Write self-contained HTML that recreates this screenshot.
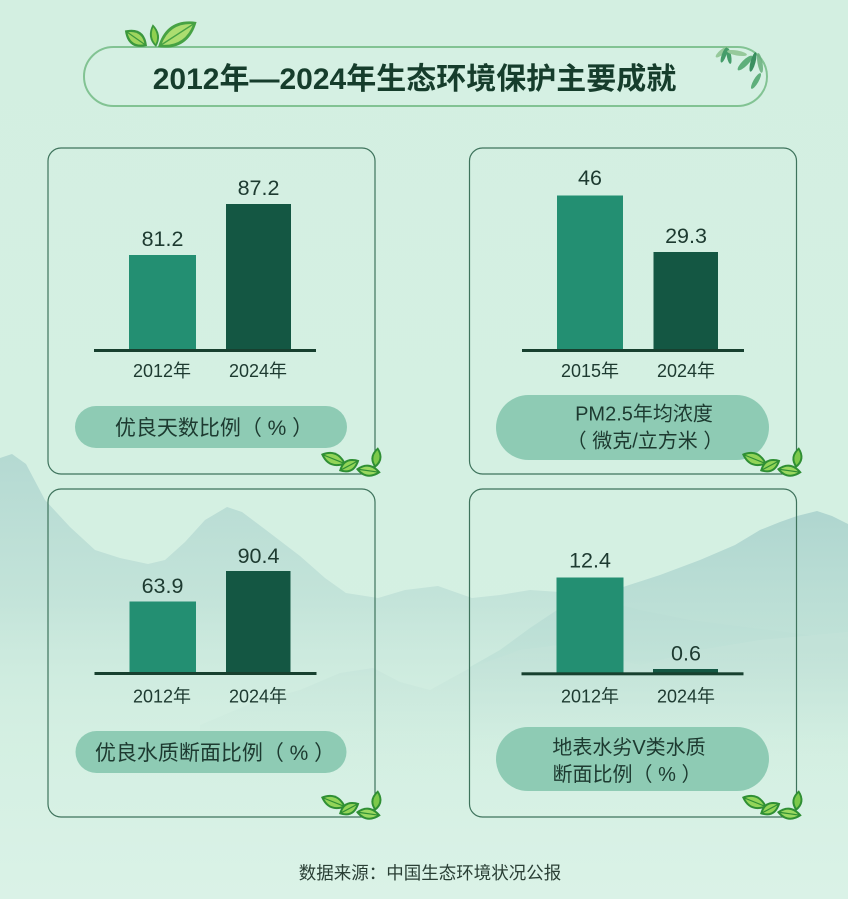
<!DOCTYPE html>
<html><head><meta charset="utf-8"><style>
html,body{margin:0;padding:0;background:#d4efe2;}
svg{display:block;}
</style></head><body>
<svg width="848" height="899" viewBox="0 0 848 899" xmlns="http://www.w3.org/2000/svg">
<defs>
<linearGradient id="bg" x1="0" y1="0" x2="0" y2="1">
<stop offset="0" stop-color="#d3efe1"/><stop offset="0.85" stop-color="#d5f0e3"/><stop offset="1" stop-color="#daf2e7"/>
</linearGradient>
<linearGradient id="mt" x1="0" y1="450" x2="0" y2="780" gradientUnits="userSpaceOnUse">
<stop offset="0" stop-color="#b4d9d2"/><stop offset="0.45" stop-color="#c1e2d8" stop-opacity="0.9"/><stop offset="1" stop-color="#d3efe1" stop-opacity="0"/>
</linearGradient>
<linearGradient id="mtR" x1="0" y1="505" x2="0" y2="760" gradientUnits="userSpaceOnUse">
<stop offset="0" stop-color="#aed5cf"/><stop offset="0.6" stop-color="#bde0d6" stop-opacity="0.8"/><stop offset="1" stop-color="#d3efe1" stop-opacity="0"/>
</linearGradient>
<linearGradient id="mt2" x1="0" y1="660" x2="0" y2="790" gradientUnits="userSpaceOnUse">
<stop offset="0" stop-color="#c4e3d9"/><stop offset="1" stop-color="#d3efe1" stop-opacity="0"/>
</linearGradient>
<g id="lv">
<g transform="translate(-58 -20) rotate(22)"><path d="M0,0 Q13,-13 27,0 Q13,13 0,0Z" fill="#2f8f34"/><path d="M3,0 Q13,-9 24,0 Q13,9 3,0Z" fill="#92d458"/><path d="M2,0 L25,0" stroke="#2f8f34" stroke-width="1.2"/></g>
<g transform="translate(-40 -3) rotate(-28)"><path d="M0,0 Q11,-12 23,0 Q11,12 0,0Z" fill="#2f8f34"/><path d="M3,0 Q11,-8 20,0 Q11,8 3,0Z" fill="#92d458"/><path d="M2,0 L21,0" stroke="#2f8f34" stroke-width="1.2"/></g>
<g transform="translate(-4 -6) rotate(-82)"><path d="M0,0 Q10,-10 21,0 Q10,10 0,0Z" fill="#2f8f34"/><path d="M3,0 Q10,-6 18,0 Q10,6 3,0Z" fill="#7cc94a"/></g>
<g transform="translate(-23 -5) rotate(8)"><path d="M0,0 Q12,-12 25,0 Q12,12 0,0Z" fill="#2f8f34"/><path d="M3,0 Q12,-8 22,0 Q12,8 3,0Z" fill="#9ad860"/><path d="M2,0 L23,0" stroke="#2f8f34" stroke-width="1.2"/></g>
</g>
</defs>
<rect width="848" height="899" fill="url(#bg)"/>
<!-- mountains -->
<path d="M0,458 L12,454 L26,464 L45,500 L70,527 L95,550 L120,558 L148,564 L165,560 L185,542 L205,520 L227,507 L242,512 L266,530 L300,556 L325,578 L346,593 L378,598 L405,590 L438,586 L455,592 L472,598 L500,595 L530,590 L560,592 L600,600 L640,610 L690,620 L848,640 L848,899 L0,899 Z" fill="url(#mt)"/>
<path d="M470,667 L500,650 L530,628 L557,610 L590,598 L620,588 L660,575 L700,560 L735,545 L760,530 L780,522 L797,516 L817,511 L832,516 L848,524 L848,899 L470,899 Z" fill="url(#mtR)"/>
<path d="M200,725 L250,704 L300,690 L340,673 L373,668 L400,682 L430,690 L470,668 L520,650 L560,645 L600,655 L640,665 L700,650 L760,640 L848,632 L848,899 L200,899 Z" fill="url(#mt2)" opacity="0.7"/>

<!-- title banner -->
<rect x="84" y="47" width="683" height="59" rx="29.5" fill="#d8f2e5" fill-opacity="0.5" stroke="#82c393" stroke-width="2"/>
<g>
<g transform="translate(147 46) rotate(-145)"><path d="M0,0 Q13,-15 27,0 Q13,15 0,0Z" fill="#3b983d"/><path d="M3,0 Q13,-10 24,0 Q13,10 3,0Z" fill="#9fd55e"/><path d="M2,0 L25,0" stroke="#3b983d" stroke-width="1.2"/></g>
<g transform="translate(156 47) rotate(-98)"><path d="M0,0 Q11,-9 23,0 Q11,9 0,0Z" fill="#3b983d"/><path d="M3,0 Q11,-5 20,0 Q11,5 3,0Z" fill="#8fd050"/></g>
<g transform="translate(158 47) rotate(-33)"><path d="M0,0 Q23,-20 46,0 Q23,20 0,0Z" fill="#47a244"/><path d="M4,0 Q23,-14 42,0 Q23,14 4,0Z" fill="#acdd70"/><path d="M3,0 L43,0" stroke="#47a244" stroke-width="1.4"/></g>
</g>
<g opacity="0.85">
<ellipse cx="722" cy="52" rx="8" ry="2.5" transform="rotate(-40 722 52)" fill="#8cc38f"/>
<ellipse cx="724" cy="55" rx="8" ry="2.2" transform="rotate(-70 724 55)" fill="#2d8f55"/>
<ellipse cx="729" cy="56" rx="8" ry="2.2" transform="rotate(-100 729 56)" fill="#2d8f55"/>
<ellipse cx="737" cy="53" rx="10" ry="2.5" transform="rotate(10 737 53)" fill="#8cc38f"/>
<ellipse cx="745" cy="63" rx="10" ry="3" transform="rotate(-45 745 63)" fill="#4aa46a"/>
<ellipse cx="753" cy="62" rx="10" ry="2.5" transform="rotate(-75 753 62)" fill="#1f7f4a"/>
<ellipse cx="760" cy="63" rx="10" ry="2.5" transform="rotate(-100 760 63)" fill="#6ab07e"/>
<ellipse cx="756" cy="81" rx="9" ry="2.5" transform="rotate(-60 756 81)" fill="#4aa46a"/>
</g>
<text x="414.5" y="89" text-anchor="middle" font-family="Liberation Sans, Noto Sans CJK SC, sans-serif" font-weight="700" font-size="30" fill="#163d2c">2012年—2024年生态环境保护主要成就</text>

<!-- panels -->
<g fill="none" stroke="#3e735c" stroke-width="1.2">
<rect x="48" y="148" width="327" height="326" rx="13"/>
<rect x="469.5" y="148" width="327" height="326" rx="13"/>
<rect x="48" y="489" width="327" height="328" rx="13"/>
<rect x="469.5" y="489" width="327" height="328" rx="13"/>
</g>

<g font-family="Liberation Sans, Noto Sans CJK SC, sans-serif" fill="#1d3a30">
<!-- panel 1 -->
<rect x="129" y="255" width="67" height="95" fill="#238f72"/>
<rect x="226" y="204" width="65" height="146" fill="#145743"/>
<rect x="94" y="349" width="222" height="3" fill="#17402f"/>
<text x="162.5" y="246" text-anchor="middle" font-size="21.5">81.2</text>
<text x="258.5" y="195" text-anchor="middle" font-size="21.5">87.2</text>
<text x="162" y="377" text-anchor="middle" font-size="18">2012年</text>
<text x="258" y="377" text-anchor="middle" font-size="18">2024年</text>
<rect x="75" y="406" width="272" height="42" rx="21" fill="#8ecbb4"/>
<text x="214" y="435" text-anchor="middle" font-size="21">优良天数比例（ % ）</text>

<!-- panel 2 -->
<rect x="557" y="195.5" width="66" height="154.5" fill="#238f72"/>
<rect x="653.5" y="252" width="64.5" height="98" fill="#145743"/>
<rect x="522" y="349" width="222" height="3" fill="#17402f"/>
<text x="590" y="185" text-anchor="middle" font-size="21.5">46</text>
<text x="686" y="243" text-anchor="middle" font-size="21.5">29.3</text>
<text x="590" y="377" text-anchor="middle" font-size="18">2015年</text>
<text x="686" y="377" text-anchor="middle" font-size="18">2024年</text>
<rect x="496" y="395" width="273" height="65" rx="32.5" fill="#8ecbb4"/>
<text x="644" y="420.5" text-anchor="middle" font-size="20">PM2.5年均浓度</text>
<text x="645" y="447.5" text-anchor="middle" font-size="20">（ 微克/立方米 ）</text>

<!-- panel 3 -->
<rect x="129.5" y="601.5" width="66.5" height="71.5" fill="#238f72"/>
<rect x="226" y="571" width="64.5" height="102" fill="#145743"/>
<rect x="94.5" y="672" width="222" height="3" fill="#17402f"/>
<text x="162.5" y="593" text-anchor="middle" font-size="21.5">63.9</text>
<text x="258.5" y="563" text-anchor="middle" font-size="21.5">90.4</text>
<text x="162" y="702.5" text-anchor="middle" font-size="18">2012年</text>
<text x="258" y="702.5" text-anchor="middle" font-size="18">2024年</text>
<rect x="75.5" y="731" width="271" height="42" rx="21" fill="#8ecbb4"/>
<text x="215" y="760" text-anchor="middle" font-size="21">优良水质断面比例（ % ）</text>

<!-- panel 4 -->
<rect x="556.5" y="577.5" width="67" height="95.5" fill="#238f72"/>
<rect x="653" y="669" width="65" height="4" fill="#145743"/>
<rect x="521.5" y="672.3" width="222" height="3" fill="#17402f"/>
<text x="590" y="567.7" text-anchor="middle" font-size="21.5">12.4</text>
<text x="686" y="660.7" text-anchor="middle" font-size="21.5">0.6</text>
<text x="590" y="702.5" text-anchor="middle" font-size="18">2012年</text>
<text x="686" y="702.5" text-anchor="middle" font-size="18">2024年</text>
<rect x="496" y="727" width="273" height="64" rx="32" fill="#8ecbb4"/>
<text x="629" y="754" text-anchor="middle" font-size="20">地表水劣V类水质</text>
<text x="627" y="781" text-anchor="middle" font-size="20">断面比例（ % ）</text>

<!-- footer -->
<text x="430" y="879" text-anchor="middle" font-size="17.5" fill="#2a3f35">数据来源：中国生态环境状况公报</text>
</g>

<!-- leaves -->
<use href="#lv" transform="translate(379 474)"/>
<use href="#lv" transform="translate(800 474)"/>
<use href="#lv" transform="translate(379 817)"/>
<use href="#lv" transform="translate(800 817)"/>
</svg>
</body></html>
